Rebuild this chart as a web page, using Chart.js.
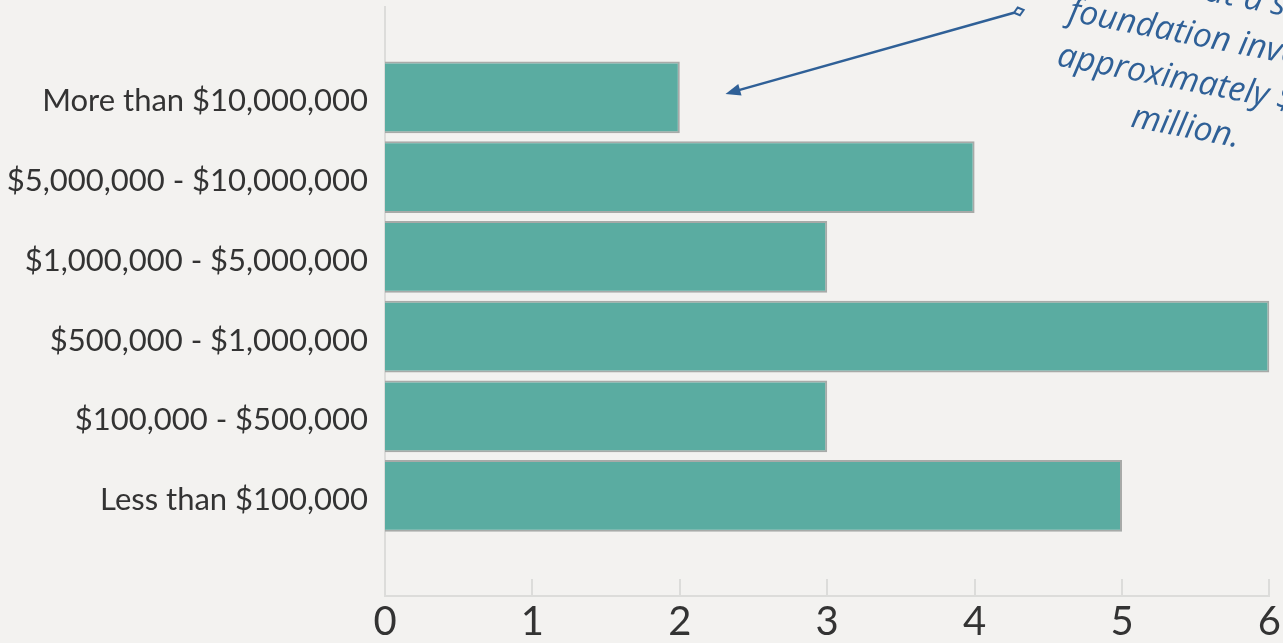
<!DOCTYPE html>
<html>
<head>
<meta charset="utf-8">
<script src="https://cdn.jsdelivr.net/npm/chart.js@4.4.1/dist/chart.umd.min.js"></script>
<style>
  html, body { margin: 0; padding: 0; background: #f3f2f0; overflow: hidden; }
  #wrap { width: 1283px; height: 643px; position: relative; }
</style>
</head>
<body>
<div id="wrap"><canvas id="c"></canvas></div>
<script>
const categories = [
  'More than $10,000,000',
  '$5,000,000 - $10,000,000',
  '$1,000,000 - $5,000,000',
  '$500,000 - $1,000,000',
  '$100,000 - $500,000',
  'Less than $100,000'
];
const counts = [2, 4, 3, 6, 3, 5];
const xTicks = [0, 1, 2, 3, 4, 5, 6];
const noteLines = ['It turns out a small', 'foundation invests', 'approximately $15', 'million.'];

const BG = '#f3f2f0';
const AXIS = '#dcdcda';
const NOTE = '#2f6097';

const bgPlugin = {
  id: 'bg',
  beforeDraw(chart) {
    const ctx = chart.ctx;
    ctx.save();
    ctx.fillStyle = BG;
    ctx.fillRect(0, 0, chart.width, chart.height);
    ctx.restore();
  }
};

const tickPlugin = {
  id: 'innerTicks',
  afterDatasetsDraw(chart) {
    const ctx = chart.ctx, xs = chart.scales.x, b = chart.chartArea.bottom;
    ctx.save();
    ctx.strokeStyle = AXIS;
    ctx.lineWidth = 2;
    xTicks.forEach(v => {
      const px = Math.round(xs.getPixelForValue(v));
      ctx.beginPath();
      ctx.moveTo(px, b - 17);
      ctx.lineTo(px, b);
      ctx.stroke();
    });
    ctx.restore();
  }
};

const notePlugin = {
  id: 'note',
  afterDraw(chart) {
    const ctx = chart.ctx, xs = chart.scales.x, ys = chart.scales.y;
    ctx.save();
    // arrow
    const x0 = xs.getPixelForValue(4.3), y0 = ys.getPixelForValue(-1.08);
    const x1 = xs.getPixelForValue(2.31), y1 = ys.getPixelForValue(-0.045);
    const ang = Math.atan2(y1 - y0, x1 - x0);
    const headLen = 15, headW = 6;
    ctx.strokeStyle = NOTE;
    ctx.fillStyle = NOTE;
    ctx.lineWidth = 2.5;
    ctx.beginPath();
    ctx.moveTo(x0 + 5 * Math.cos(ang), y0 + 5 * Math.sin(ang));
    ctx.lineTo(x1 - headLen * 0.8 * Math.cos(ang), y1 - headLen * 0.8 * Math.sin(ang));
    ctx.stroke();
    ctx.beginPath();
    ctx.moveTo(x1, y1);
    ctx.lineTo(x1 - headLen * Math.cos(ang) + headW * Math.sin(ang), y1 - headLen * Math.sin(ang) - headW * Math.cos(ang));
    ctx.lineTo(x1 - headLen * Math.cos(ang) - headW * Math.sin(ang), y1 - headLen * Math.sin(ang) + headW * Math.cos(ang));
    ctx.closePath();
    ctx.fill();
    // diamond at start
    ctx.save();
    ctx.translate(x0, y0);
    ctx.rotate(ang);
    ctx.lineWidth = 2;
    ctx.beginPath();
    ctx.moveTo(5, 0); ctx.lineTo(0, -4); ctx.lineTo(-5, 0); ctx.lineTo(0, 4); ctx.closePath();
    ctx.stroke();
    ctx.restore();

    // text
    const fam = '"Open Sans", sans-serif';
    ctx.font = 'italic 40px ' + fam;
    const w = ctx.measureText('million.').width;
    const size = 40 * 110 / w;
    ctx.font = 'italic ' + size.toFixed(1) + 'px ' + fam;
    const ax = xs.getPixelForValue(5.42), ay = ys.getPixelForValue(0.496);
    ctx.translate(ax, ay);
    ctx.rotate(11 * Math.PI / 180);
    ctx.textAlign = 'center';
    ctx.textBaseline = 'alphabetic';
    const n = noteLines.length;
    noteLines.forEach((line, k) => {
      ctx.fillText(line, 0, -(n - 1 - k) * 46);
    });
    ctx.restore();
  }
};

new Chart(document.getElementById('c'), {
  type: 'bar',
  data: {
    datasets: [{
      data: counts.map((v, i) => ({ x: v, y: i })),
      backgroundColor: '#5aaca1',
      borderColor: 'rgba(158,162,160,0.9)',
      borderWidth: 2,
      borderSkipped: 'start',
      categoryPercentage: 1,
      barPercentage: 0.9
    }]
  },
  options: {
    indexAxis: 'y',
    responsive: true,
    maintainAspectRatio: false,
    animation: false,
    layout: { padding: { top: 7, right: 13, left: 0, bottom: 0 } },
    plugins: { legend: { display: false }, tooltip: { enabled: false } },
    scales: {
      x: {
        type: 'linear',
        position: 'bottom',
        min: 0,
        max: 6,
        offset: false,
        afterBuildTicks(s) { s.ticks = xTicks.map(v => ({ value: v })); },
        afterFit(s) { s.height = 47; },
        grid: { display: false, drawTicks: false, offset: false },
        border: { display: true, color: AXIS, width: 2 },
        ticks: {
          color: '#333',
          font: { family: 'Lato', size: 40 },
          padding: 2,
          maxRotation: 0
        }
      },
      y: {
        type: 'linear',
        reverse: true,
        min: -1.135,
        max: 6.255,
        offset: false,
        afterBuildTicks(s) { s.ticks = categories.map((_, i) => ({ value: i })); },
        afterFit(s) { s.width = 385; s.paddingTop = 0; s.paddingBottom = 0; },
        grid: { display: false, drawTicks: false, offset: false },
        border: { display: true, color: AXIS, width: 2 },
        ticks: {
          color: '#333',
          font: { family: 'Lato', size: 31 },
          padding: 17,
          labelOffset: 4,
          autoSkip: false,
          callback: (v) => categories[v] !== undefined ? categories[v] : ''
        }
      }
    }
  },
  plugins: [bgPlugin, tickPlugin, notePlugin]
});
</script>
</body>
</html>
